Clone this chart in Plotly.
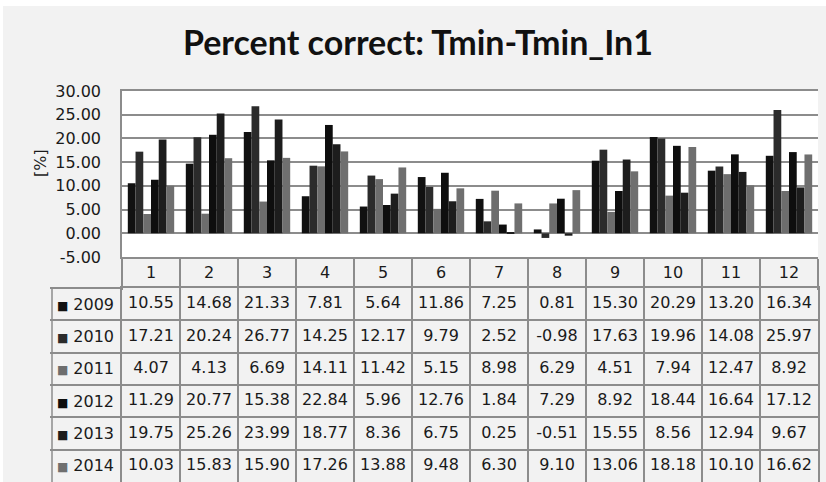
import plotly.graph_objects as go

months = ["1", "2", "3", "4", "5", "6", "7", "8", "9", "10", "11", "12"]
years = ["2009", "2010", "2011", "2012", "2013", "2014"]
v2009 = [10.55, 14.68, 21.33, 7.81, 5.64, 11.86, 7.25, 0.81, 15.30, 20.29, 13.20, 16.34]
v2010 = [17.21, 20.24, 26.77, 14.25, 12.17, 9.79, 2.52, -0.98, 17.63, 19.96, 14.08, 25.97]
v2011 = [4.07, 4.13, 6.69, 14.11, 11.42, 5.15, 8.98, 6.29, 4.51, 7.94, 12.47, 8.92]
v2012 = [11.29, 20.77, 15.38, 22.84, 5.96, 12.76, 1.84, 7.29, 8.92, 18.44, 16.64, 17.12]
v2013 = [19.75, 25.26, 23.99, 18.77, 8.36, 6.75, 0.25, -0.51, 15.55, 8.56, 12.94, 9.67]
v2014 = [10.03, 15.83, 15.90, 17.26, 13.88, 9.48, 6.30, 9.10, 13.06, 18.18, 10.10, 16.62]
series = [v2009, v2010, v2011, v2012, v2013, v2014]
colors = ["#111111", "#2b2b2b", "#6d6d6d", "#0e0e0e", "#1d1d1d", "#6f6f6f"]
tick_vals = [-5, 0, 5, 10, 15, 20, 25, 30]
tick_text = ["-5.00", "0.00", "5.00", "10.00", "15.00", "20.00", "25.00", "30.00"]

W, H = 826, 482
BG = "#f2f2f2"
GRID = "#8c8c8c"
TXT = "#1a1a1a"
FONT = "DejaVu Sans"

# layout geometry (pixels)
px_l, px_r, px_t, px_b = 122, 818, 91, 257
hdr_b = 288
tbl_l = 52

fig = go.Figure()
for name, vals, col in zip(years, series, colors):
    fig.add_trace(go.Bar(x=months, y=vals, name=name, marker=dict(color=col, line=dict(width=0)),
                         xaxis="x", yaxis="y", hoverinfo="skip"))

# row labels of the data table: legend key square + year
year_labels = [f'<span style="font-size:12px;color:{c}">■</span> {y}' for y, c in zip(years, colors)]

# data table cells (text placed through the table subplot's category axes)
for lab, vals in zip(year_labels, series):
    fig.add_trace(go.Scatter(x=months, y=[lab] * len(months), mode="text",
                             text=[f"{v:.2f}" for v in vals],
                             textposition="middle center",
                             textfont=dict(family=FONT, size=16, color=TXT),
                             xaxis="x2", yaxis="y2", hoverinfo="skip"))

line_kw = dict(linecolor=GRID, linewidth=1.5)
fig.update_layout(
    width=W, height=H,
    margin=dict(l=0, r=0, t=0, b=0, autoexpand=False),
    paper_bgcolor="white",
    plot_bgcolor=BG,
    showlegend=False,
    barmode="group",
    bargap=0.2,
    bargroupgap=0,
    title=dict(text="<b>Percent correct: Tmin-Tmin_In1</b>", x=0.506, xanchor="center",
               y=1 - 43 / H, yanchor="middle", yref="container",
               font=dict(family="Lato", size=34, color="#111111")),
    xaxis=dict(domain=[px_l / W, px_r / W], type="category", categoryarray=months,
               range=[-0.5, len(months) - 0.5], automargin=False,
               showgrid=False, showline=True, mirror=True, **line_kw,
               tickson="boundaries", ticks="outside", ticklen=hdr_b - px_b,
               tickcolor=GRID, tickwidth=1.5, ticklabelstandoff=0,
               tickfont=dict(family=FONT, size=16, color=TXT)),
    yaxis=dict(domain=[1 - px_b / H, 1 - px_t / H], range=[-5, 30], automargin=False,
               tickmode="array", tickvals=tick_vals, ticktext=tick_text,
               showgrid=True, gridcolor=GRID, gridwidth=1.5,
               zeroline=True, zerolinecolor=GRID, zerolinewidth=1.5,
               showline=True, **line_kw, ticks="",
               ticklabelstandoff=16,
               tickfont=dict(family=FONT, size=16, color=TXT)),
    xaxis2=dict(domain=[px_l / W, px_r / W], type="category", categoryarray=months,
                range=[-0.5, len(months) - 0.5], automargin=False,
                anchor="y2", showticklabels=False, tickson="boundaries", ticks="",
                showgrid=True, gridcolor=GRID, gridwidth=1.5,
                showline=True, mirror=True, **line_kw),
    yaxis2=dict(domain=[0, 1 - hdr_b / H], type="category", categoryarray=year_labels,
                range=[len(years) - 0.5, -0.5], anchor="x2", automargin=False,
                tickson="boundaries", ticks="outside", ticklen=px_l - tbl_l,
                tickcolor=GRID, tickwidth=1.5, ticklabelstandoff=3,
                showgrid=True, gridcolor=GRID, gridwidth=1.5,
                showline=True, mirror=True, **line_kw,
                tickfont=dict(family=FONT, size=16, color=TXT)),
    shapes=[
        dict(type="rect", xref="paper", yref="paper", x0=3 / W, x1=1, y0=0, y1=1 - 6 / H,
             fillcolor=BG, line=dict(width=0), layer="below"),
        dict(type="rect", xref="x domain", yref="y domain", x0=0, x1=1, y0=0, y1=1,
             fillcolor="white", line=dict(width=0), layer="below"),
        dict(type="line", xref="paper", yref="y2 domain", x0=tbl_l / W, x1=tbl_l / W, y0=0, y1=1,
             line=dict(color=GRID, width=1.5)),
    ],
    annotations=[dict(text="[%]", xref="paper", yref="paper", x=40 / W, y=1 - 163 / H,
                      xanchor="center", yanchor="middle",
                      showarrow=False, textangle=-90,
                      font=dict(family=FONT, size=16, color=TXT))],
)

fig.write_html("out.html")
